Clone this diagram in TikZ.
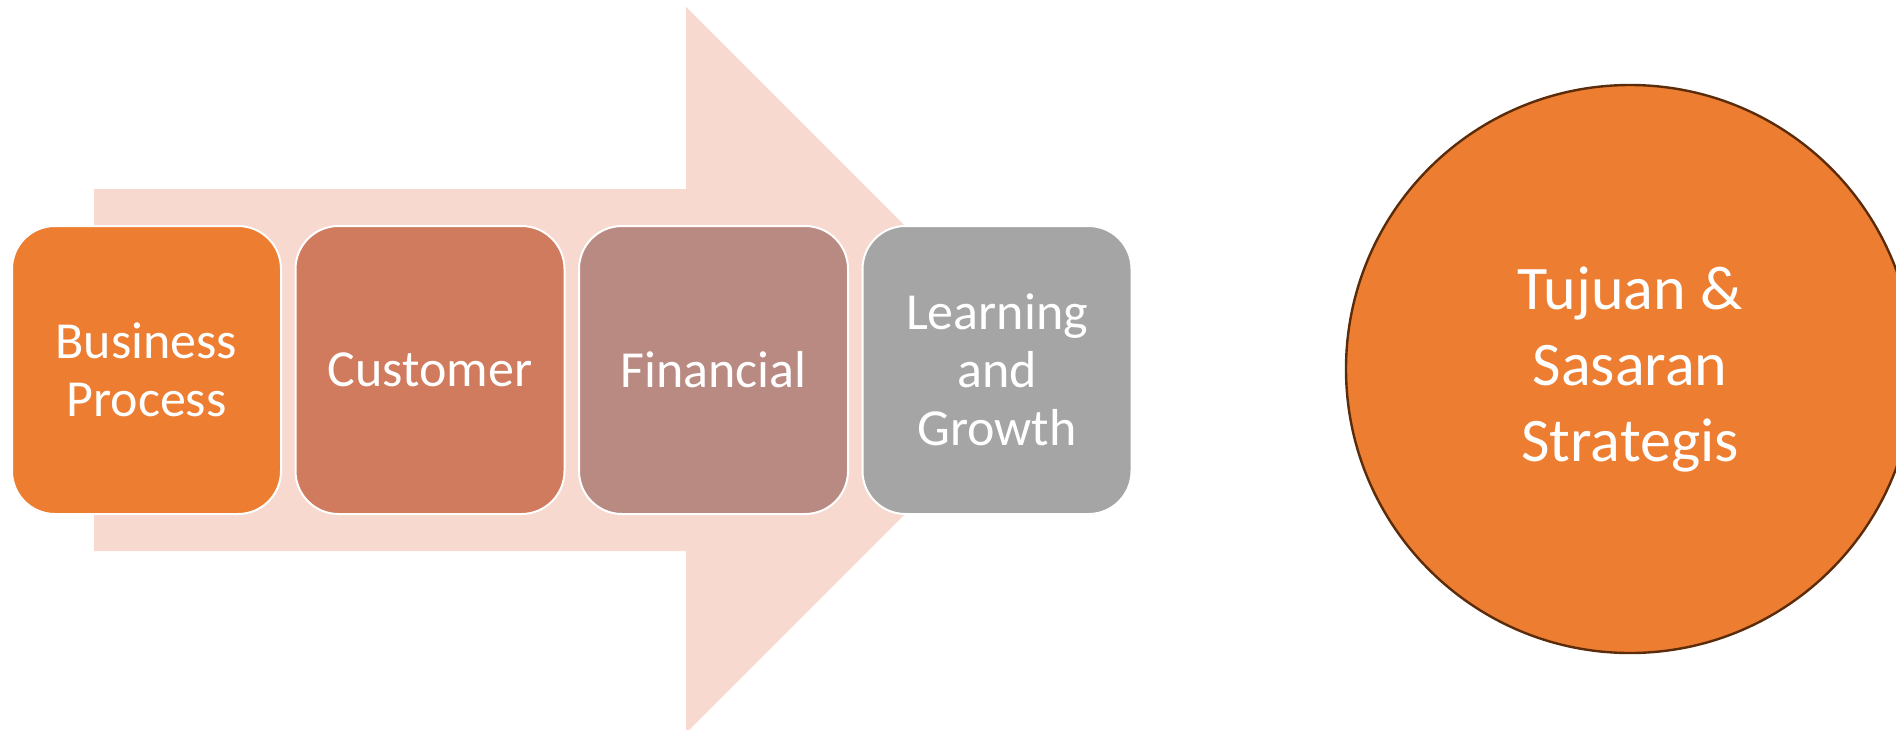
\documentclass[tikz,border=0pt]{standalone}
\usepackage{fontspec}
\setmainfont{Carlito}
\usepackage{tikz}
\usepackage{xcolor}
\definecolor{vorange}{HTML}{ED7D31}
\definecolor{vrust}{HTML}{D07A5E}
\definecolor{vmauve}{HTML}{B98A82}
\definecolor{vgray}{HTML}{A5A5A5}
\definecolor{vpink}{HTML}{F7D9CF}
\definecolor{vbrown}{HTML}{5B2C0A}

\begin{document}
\begin{tikzpicture}[x=0.5pt, y=-0.5pt,
		card/.style={draw=white, line width=1pt, rounded corners=21.5pt, inner sep=0pt,
			minimum width=134.5pt, minimum height=144pt, align=center, text=white,
			font=\fontsize{26}{29}\selectfont}]
		\useasboundingbox (0,0) rectangle (1896,729);
		\clip (0,0) rectangle (1896,729);
		\fill[color=vpink] (94,189) -- (686,189) -- (686,7) -- (1049,370) -- (686,733) -- (686,551) -- (94,551) -- cycle;
		\node[card, fill=vorange] (business) at (146.5,370) {Business\\Process};
		\node[card, fill=vrust] (customer) at (430,370) {Customer};
		\node[card, fill=vmauve] (financial) at (713.5,370) {Financial};
		\node[card, fill=vgray] (learning) at (997,370) {Learning\\and\\Growth};
		\node[circle, draw=vbrown, line width=1.2pt, fill=vorange, minimum size=284pt, inner sep=0pt,
			align=center, text=white, font=\fontsize{31}{38}\selectfont] (goal) at (1630,369) {Tujuan \&\\Sasaran\\Strategis};
	\end{tikzpicture}
\end{document}
